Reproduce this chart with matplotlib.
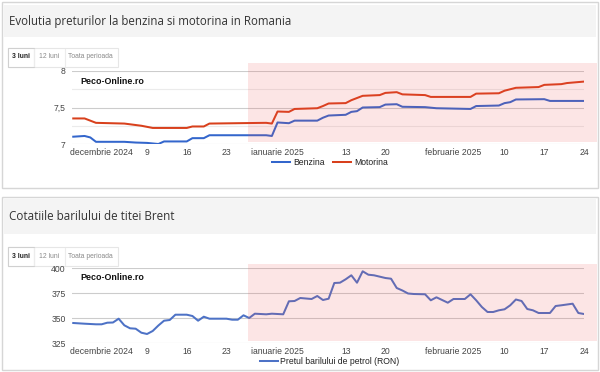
import numpy as np
import matplotlib
matplotlib.use('Agg')
import matplotlib.pyplot as plt
import matplotlib.dates as mdates
from matplotlib.patches import Rectangle
from matplotlib.lines import Line2D

# ---------------- data ----------------
benzina_dates = ['2024-11-26', '2024-11-28', '2024-11-29', '2024-11-30', '2024-12-05', '2024-12-07',
                 '2024-12-09', '2024-12-11', '2024-12-12', '2024-12-16', '2024-12-17', '2024-12-19',
                 '2024-12-20', '2024-12-30', '2024-12-31', '2025-01-01', '2025-01-03', '2025-01-04',
                 '2025-01-08', '2025-01-09', '2025-01-10', '2025-01-13', '2025-01-14', '2025-01-15',
                 '2025-01-16', '2025-01-19', '2025-01-20', '2025-01-22', '2025-01-23', '2025-01-27',
                 '2025-01-29', '2025-02-04', '2025-02-05', '2025-02-09', '2025-02-10', '2025-02-11',
                 '2025-02-12', '2025-02-17', '2025-02-18', '2025-02-24']
benzina_values = [7.10, 7.11, 7.09, 7.03, 7.03, 7.02, 7.015, 7.00, 7.035, 7.035,
                  7.08, 7.08, 7.12, 7.12, 7.11, 7.295, 7.285, 7.32, 7.32, 7.36,
                  7.39, 7.40, 7.44, 7.45, 7.50, 7.505, 7.54, 7.545, 7.51, 7.505,
                  7.49, 7.48, 7.52, 7.527, 7.56, 7.573, 7.61, 7.614, 7.59, 7.59]

motorina_dates = ['2024-11-26', '2024-11-28', '2024-11-30', '2024-12-05', '2024-12-07', '2024-12-08',
                  '2024-12-10', '2024-12-16', '2024-12-17', '2024-12-19', '2024-12-20', '2024-12-30',
                  '2024-12-31', '2025-01-01', '2025-01-03', '2025-01-04', '2025-01-08', '2025-01-09',
                  '2025-01-10', '2025-01-13', '2025-01-14', '2025-01-16', '2025-01-19', '2025-01-20',
                  '2025-01-22', '2025-01-23', '2025-01-27', '2025-01-28', '2025-02-04', '2025-02-05',
                  '2025-02-09', '2025-02-10', '2025-02-12', '2025-02-16', '2025-02-17', '2025-02-20',
                  '2025-02-21', '2025-02-24']
motorina_values = [7.35, 7.35, 7.29, 7.28, 7.26, 7.25, 7.22, 7.22, 7.24, 7.24,
                   7.28, 7.29, 7.28, 7.445, 7.44, 7.48, 7.49, 7.52, 7.555, 7.56,
                   7.60, 7.66, 7.67, 7.70, 7.71, 7.68, 7.67, 7.645, 7.645, 7.69,
                   7.695, 7.73, 7.77, 7.78, 7.81, 7.82, 7.835, 7.855]

brent_dates = ['2024-11-26', '2024-11-28', '2024-11-30', '2024-12-01', '2024-12-02', '2024-12-03',
               '2024-12-04', '2024-12-05', '2024-12-06', '2024-12-07', '2024-12-08', '2024-12-09',
               '2024-12-10', '2024-12-11', '2024-12-12', '2024-12-13', '2024-12-14', '2024-12-16',
               '2024-12-17', '2024-12-18', '2024-12-19', '2024-12-20', '2024-12-23', '2024-12-24',
               '2024-12-25', '2024-12-26', '2024-12-27', '2024-12-28', '2024-12-30', '2024-12-31',
               '2025-01-02', '2025-01-03', '2025-01-04', '2025-01-05', '2025-01-07', '2025-01-08',
               '2025-01-09', '2025-01-10', '2025-01-11', '2025-01-12', '2025-01-13', '2025-01-14',
               '2025-01-15', '2025-01-16', '2025-01-17', '2025-01-18', '2025-01-20', '2025-01-21',
               '2025-01-22', '2025-01-23', '2025-01-24', '2025-01-25', '2025-01-27', '2025-01-28',
               '2025-01-29', '2025-01-31', '2025-02-01', '2025-02-03', '2025-02-04', '2025-02-05',
               '2025-02-06', '2025-02-07', '2025-02-08', '2025-02-09', '2025-02-10', '2025-02-11',
               '2025-02-12', '2025-02-13', '2025-02-14', '2025-02-15', '2025-02-16', '2025-02-18',
               '2025-02-19', '2025-02-20', '2025-02-22', '2025-02-23', '2025-02-24']
brent_values = [345.0, 344.3, 343.7, 343.7, 345.3, 345.5, 349.3, 342.7, 339.7, 339.3,
                335.3, 334.0, 337.0, 342.5, 347.3, 348.0, 353.3, 353.3, 352.0, 347.3,
                351.3, 349.3, 349.3, 348.3, 348.3, 352.7, 350.0, 354.3, 353.7, 354.3,
                353.7, 366.7, 367.0, 370.0, 369.0, 372.0, 368.0, 369.3, 385.0, 385.3,
                388.7, 392.7, 385.3, 396.7, 393.3, 392.7, 390.0, 389.3, 380.0, 377.5,
                374.5, 374.0, 373.7, 367.7, 370.7, 365.3, 369.0, 369.0, 373.7, 367.7,
                361.0, 356.0, 356.0, 357.7, 358.7, 362.7, 368.5, 367.0, 359.0, 357.7,
                355.0, 355.0, 362.0, 362.7, 364.3, 355.0, 354.0]

xtick_dates = ['2024-12-01', '2024-12-09', '2024-12-16', '2024-12-23', '2025-01-01', '2025-01-13',
               '2025-01-20', '2025-02-01', '2025-02-10', '2025-02-17', '2025-02-24']
xtick_labels = ['decembrie 2024', '9', '16', '23', 'ianuarie 2025', '13', '20',
                'februarie 2025', '10', '17', '24']

fuel_yticks = [7, 7.5, 8]
fuel_yticklabels = ['7', '7,5', '8']
fuel_yminor = [7.25, 7.75]
brent_yticks = [325, 350, 375, 400]
brent_yticklabels = ['325', '350', '375', '400']

title_fuel = 'Evolutia preturilor la benzina si motorina in Romania'
title_brent = 'Cotatiile barilului de titei Brent'
watermark = 'Peco-Online.ro'
buttons = ['3 luni', '12 luni', 'Toata perioada']

# ---------------- layout helpers ----------------
W, H = 600, 372
fig = plt.figure(figsize=(6, 3.72), dpi=100)
fig.patch.set_facecolor('white')
TF = 'Liberation Sans'


def fx(x):
    return x / W


def fy(y):
    return 1 - y / H


def frect(x0, y0, x1, y1, **kw):
    r = Rectangle((fx(x0), fy(y1)), (x1 - x0) / W, (y1 - y0) / H,
                  transform=fig.transFigure, **kw)
    fig.patches.append(r)
    return r


def fit_width(t, target):
    fig.canvas.draw()
    r = fig.canvas.get_renderer()
    w = t.get_window_extent(r).width
    t.set_fontsize(t.get_fontsize() * target / w)


def to_dt(lst):
    return np.array(lst, dtype='datetime64[D]')


d0 = mdates.date2num(np.datetime64('2024-12-01'))
XL = (d0 - 5.22, d0 + 85.0)


def panel(top, bottom, hdr0, hdr1, title, title_w, btn_y0):
    frect(1.5, top, 597.5, bottom, facecolor='white', edgecolor='#d6d6d6', lw=1, zorder=-2)
    frect(3.5, hdr0, 595.5, hdr1, facecolor='#f4f4f4', edgecolor='none', zorder=-1)
    t = fig.text(fx(9), fy((hdr0 + hdr1) / 2 + 0.5), title, fontsize=9.5, color='#333333',
                 family='Open Sans', ha='left', va='center')
    fit_width(t, title_w)
    # buttons
    b0, b1 = btn_y0, btn_y0 + 19
    frect(8, b0, 118, b1, facecolor='white', edgecolor='#e6e6e6', lw=0.8, zorder=-0.5)
    frect(8, b0, 33.5, b1, facecolor='white', edgecolor='#d0d0d0', lw=0.8, zorder=-0.4)
    for xs in (34, 64.5):
        fig.lines.append(Line2D([fx(xs), fx(xs)], [fy(b0 + 1), fy(b1 - 1)],
                                transform=fig.transFigure, color='#ececec', lw=0.8))
    fig.text(fx(20.7), fy((b0 + b1) / 2), buttons[0], fontsize=4.9, color='#222222',
             weight='bold', family=TF, ha='center', va='center')
    fig.text(fx(49.3), fy((b0 + b1) / 2), buttons[1], fontsize=4.9, color='#8a8a8a',
             family=TF, ha='center', va='center')
    fig.text(fx(90.8), fy((b0 + b1) / 2), buttons[2], fontsize=4.9, color='#8a8a8a',
             family=TF, ha='center', va='center')


def style_axes(ax, yt, ytl, ylim, minor=None):
    ax.set_xlim(XL)
    ax.set_ylim(ylim)
    for s in ax.spines.values():
        s.set_visible(False)
    ax.set_yticks(yt)
    ax.set_yticklabels(ytl)
    if minor:
        ax.set_yticks(minor, minor=True)
        ax.yaxis.grid(True, which='minor', color='#ebebeb', lw=0.8)
    ax.yaxis.grid(True, which='major', color='#cccccc', lw=0.8)
    ax.set_axisbelow(True)
    ax.set_xticks(mdates.date2num(to_dt(xtick_dates)))
    ax.set_xticklabels(xtick_labels)
    ax.tick_params(axis='both', which='both', length=0, labelsize=6.2, labelcolor='#444444')
    ax.tick_params(axis='y', pad=4.5)
    ax.tick_params(axis='x', pad=3.2)
    for lab in ax.get_xticklabels() + ax.get_yticklabels():
        lab.set_family(TF)
    ax.patch.set_alpha(0)


# ---------------- panel 1 ----------------
panel(1.5, 188, 5, 36.5, title_fuel, 286, 47.5)
ax1 = fig.add_axes([fx(72), fy(144), (584 - 72) / W, (144 - 71) / H])
l1, = ax1.plot(to_dt(benzina_dates), benzina_values, color='#3366cc', lw=1.45,
               solid_joinstyle='round', label='Benzina')
l2, = ax1.plot(to_dt(motorina_dates), motorina_values, color='#d8401c', lw=1.45,
               solid_joinstyle='round', label='Motorina')
style_axes(ax1, fuel_yticks, fuel_yticklabels, (7, 8), fuel_yminor)
leg1 = ax1.legend(loc='center', bbox_to_anchor=(fx(330), fy(162.5)), bbox_transform=fig.transFigure,
                  ncol=2, frameon=False, prop={'family': TF, 'size': 6.2}, handlelength=2.1,
                  handletextpad=0.3, columnspacing=1.0, borderpad=0, labelcolor='#222222')
wm1 = fig.text(fx(80), fy(81), watermark, fontsize=6.4, weight='bold', family=TF,
               color='#111111', ha='left', va='center')
frect(248, 63, 597, 142, facecolor=(0.94, 0.30, 0.30), alpha=0.14, edgecolor='none', zorder=5)

# ---------------- panel 2 ----------------
panel(196.5, 370, 199, 233.5, title_brent, 167, 246.5)
ax2 = fig.add_axes([fx(72), fy(343), (584 - 72) / W, (343 - 268) / H])
l3, = ax2.plot(to_dt(brent_dates), brent_values, color='#4d72c6', lw=1.45,
               solid_joinstyle='round', label='Pretul barilului de petrol (RON)')
style_axes(ax2, brent_yticks, brent_yticklabels, (325, 400))
leg2 = ax2.legend(loc='center', bbox_to_anchor=(fx(329.5), fy(361.5)), bbox_transform=fig.transFigure,
                  ncol=1, frameon=False, prop={'family': TF, 'size': 6.2}, handlelength=2.1,
                  handletextpad=0.3, borderpad=0, labelcolor='#222222')
wm2 = fig.text(fx(80), fy(278), watermark, fontsize=6.4, weight='bold', family=TF,
               color='#111111', ha='left', va='center')
frect(248, 264, 597, 341, facecolor=(0.94, 0.30, 0.30), alpha=0.14, edgecolor='none', zorder=5)

fig.savefig('out.png', dpi=100, facecolor='white')
